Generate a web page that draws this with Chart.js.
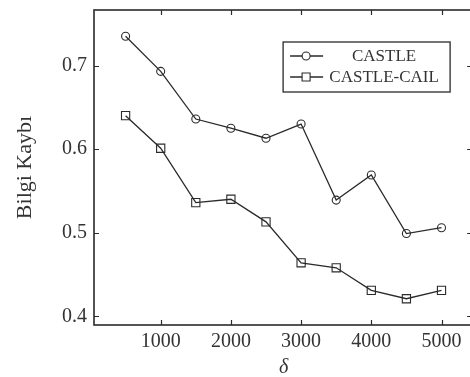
<!DOCTYPE html>
<html>
<head>
<meta charset="utf-8">
<script src="https://cdn.jsdelivr.net/npm/chart.js@4"></script>
<style>
  html, body { margin: 0; padding: 0; background: #fff; overflow: hidden; }
</style>
</head>
<body>
<canvas id="chart" width="480" height="377"></canvas>
<script>
const deltas = [500, 1000, 1500, 2000, 2500, 3000, 3500, 4000, 4500, 5000];
const castle = [0.735, 0.693, 0.636, 0.625, 0.613, 0.630, 0.539, 0.569, 0.499, 0.506];
const castleCail = [0.640, 0.601, 0.536, 0.540, 0.513, 0.464, 0.458, 0.431, 0.421, 0.431];
const seriesNames = ["CASTLE", "CASTLE-CAIL"];
const xTicks = [1000, 2000, 3000, 4000, 5000];
const yTicks = [0.4, 0.5, 0.6, 0.7];

const ink = "#2a2a2a";
const textColor = "#333";
const serif = "'Liberation Serif', 'DejaVu Serif', serif";

function toPoints(values) {
  return deltas.map((d, i) => ({ x: d, y: values[i] }));
}

// pgfplots-like frame with inward ticks on all four sides
const framePlugin = {
  id: "frame",
  afterDraw(chart) {
    const { ctx, chartArea: a, scales } = chart;
    ctx.save();
    ctx.strokeStyle = ink;
    ctx.lineWidth = 1.2;
    ctx.beginPath();
    xTicks.forEach(v => {
      const px = Math.round(scales.x.getPixelForValue(v)) + 0.5;
      ctx.moveTo(px, a.bottom); ctx.lineTo(px, a.bottom - 5);
      ctx.moveTo(px, a.top); ctx.lineTo(px, a.top + 5);
    });
    yTicks.forEach(v => {
      const py = Math.round(scales.y.getPixelForValue(v)) + 0.5;
      ctx.moveTo(a.left, py); ctx.lineTo(a.left + 5, py);
      ctx.moveTo(a.right, py); ctx.lineTo(a.right - 6, py);
    });
    ctx.stroke();
    ctx.lineWidth = 1.6;
    ctx.strokeRect(a.left, a.top, a.right - a.left, a.bottom - a.top);
    ctx.restore();
  }
};

const legendPlugin = {
  id: "boxLegend",
  afterDraw(chart) {
    const { ctx, chartArea: a } = chart;
    const bx = a.right - 190, by = a.top + 32, bw = 167, bh = 50;
    ctx.save();
    ctx.fillStyle = "#fff";
    ctx.fillRect(bx, by, bw, bh);
    ctx.strokeStyle = ink;
    ctx.lineWidth = 1.3;
    ctx.strokeRect(bx, by, bw, bh);
    ctx.font = "17px " + serif;
    ctx.fillStyle = textColor;
    ctx.textAlign = "center";
    ctx.textBaseline = "middle";
    chart.data.datasets.forEach((ds, i) => {
      const y = by + 14 + i * 21;
      ctx.beginPath();
      ctx.moveTo(bx + 7, y); ctx.lineTo(bx + 40, y);
      ctx.lineWidth = 1.3;
      ctx.stroke();
      const mx = bx + 23;
      ctx.beginPath();
      if (ds.pointStyle === "circle") {
        ctx.arc(mx, y, 4, 0, Math.PI * 2);
      } else {
        ctx.rect(mx - 4, y - 4, 8, 8);
      }
      ctx.fillStyle = "#fff";
      ctx.fill();
      ctx.lineWidth = 1.1;
      ctx.stroke();
      ctx.fillStyle = textColor;
      ctx.fillText(ds.label, bx + 101, y + 1);
    });
    ctx.restore();
  }
};

new Chart(document.getElementById("chart"), {
  type: "line",
  data: {
    datasets: [
      {
        label: seriesNames[0],
        data: toPoints(castle),
        pointStyle: "circle",
        pointRadius: 4
      },
      {
        label: seriesNames[1],
        data: toPoints(castleCail),
        pointStyle: "rect",
        pointRadius: 5.8
      }
    ]
  },
  options: {
    responsive: false,
    animation: false,
    devicePixelRatio: 1,
    layout: { padding: { top: 10, right: 4, left: 0, bottom: 0 } },
    elements: {
      line: { borderColor: ink, borderWidth: 1.3, tension: 0 },
      point: { borderColor: ink, backgroundColor: "rgba(255,255,255,0)", borderWidth: 1.1 }
    },
    plugins: {
      legend: { display: false },
      tooltip: { enabled: false }
    },
    scales: {
      x: {
        type: "linear",
        min: 50,
        max: 5450,
        grid: { display: false, drawTicks: false },
        border: { display: false },
        afterBuildTicks: s => { s.ticks = xTicks.map(v => ({ value: v })); },
        afterFit: s => { s.height = 52; s.paddingLeft = 0; s.paddingRight = 0; },
        ticks: {
          padding: 5,
          color: textColor,
          maxRotation: 0,
          font: { family: serif, size: 20 },
          callback: v => String(v)
        },
        title: {
          display: true,
          text: "δ",
          color: textColor,
          padding: { top: 0, bottom: -3 },
          font: { family: serif, size: 20, style: "italic" }
        }
      },
      y: {
        min: 0.3896,
        max: 0.7664,
        grid: { display: false, drawTicks: false },
        border: { display: false },
        afterBuildTicks: s => { s.ticks = yTicks.map(v => ({ value: v })); },
        afterFit: s => { s.width = 94; s.paddingTop = 0; s.paddingBottom = 0; },
        ticks: {
          padding: 7,
          color: textColor,
          font: { family: serif, size: 20 },
          callback: v => v.toFixed(1)
        },
        title: {
          display: true,
          text: "Bilgi Kaybı",
          color: textColor,
          padding: { top: 12, bottom: 0 },
          font: { family: serif, size: 22 }
        }
      }
    }
  },
  plugins: [framePlugin, legendPlugin]
});
</script>
</body>
</html>
